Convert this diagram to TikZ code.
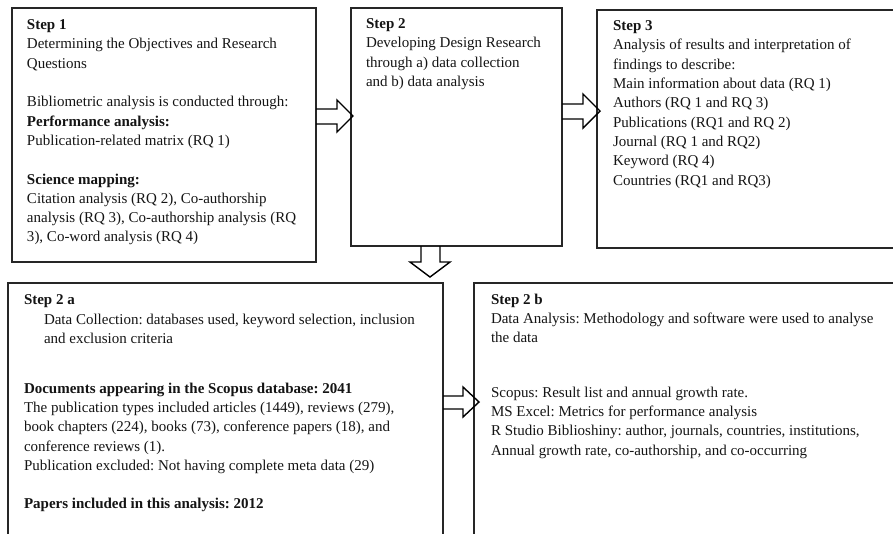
\documentclass[tikz,border=0pt]{standalone}
\usepackage{fontspec}
\setmainfont{Liberation Serif}
\frenchspacing
\begin{document}
\begin{tikzpicture}[x=1pt,y=-1pt,
  box/.style={draw=black!85, line width=1.3pt, inner sep=0pt, outer sep=0pt, anchor=north west},
  txt/.style={anchor=north west, inner sep=0pt, outer sep=0pt, align=left, text=black!92,
    font=\fontsize{15}{19.3}\selectfont\frenchspacing},
  blockarrow/.style={draw=black, line width=1.4pt, line join=miter}]
\useasboundingbox (0,0) rectangle (893,533);
\clip (0,0) rectangle (893,533);
% boxes
\node[box, minimum width=304pt, minimum height=254pt] (s1) at (12,8) {};
\node[box, minimum width=211pt, minimum height=238pt] (s2) at (351,8) {};
\node[box, minimum width=310pt, minimum height=238pt] (s3) at (597,10) {};
\node[box, minimum width=435pt, minimum height=270pt] (s2a) at (8,283) {};
\node[box, minimum width=430pt, minimum height=270pt] (s2b) at (474,283) {};
% texts (y = first baseline - 10.3)
\node[txt] (t1) at (27,19.7) {\textbf{Step 1}\\
Determining the Objectives and Research\\
Questions\\[19.3pt]
Bibliometric analysis is conducted through:\\
\textbf{Performance analysis:}\\
Publication-related matrix (RQ 1)\\[19.3pt]
\textbf{Science mapping:}\\
Citation analysis (RQ 2), Co-authorship\\
analysis (RQ 3), Co-authorship analysis (RQ\\
3), Co-word analysis (RQ 4)};
\node[txt] (t2) at (366,18.7) {\textbf{Step 2}\\
Developing Design Research\\
through a) data collection\\
and b) data analysis};
\node[txt] (t3) at (613,20.7) {\textbf{Step 3}\\
Analysis of results and interpretation of\\
findings to describe:\\
Main information about data (RQ 1)\\
Authors (RQ 1 and RQ 3)\\
Publications (RQ1 and RQ 2)\\
Journal (RQ 1 and RQ2)\\
Keyword (RQ 4)\\
Countries (RQ1 and RQ3)};
\node[txt] (t2ah) at (24,294.7) {\textbf{Step 2 a}};
\node[txt] (t2ai) at (44,313.7) {Data Collection: databases used, keyword selection, inclusion\\
and exclusion criteria};
\node[txt] (t2ab) at (24,382.7) {\textbf{Documents appearing in the Scopus database: 2041}\\
The publication types included articles (1449), reviews (279),\\
book chapters (224), books (73), conference papers (18), and\\
conference reviews (1).\\
Publication excluded: Not having complete meta data (29)\\[19.3pt]
\textbf{Papers included in this analysis: 2012}};
\node[txt] (t2bh) at (491,293.7) {\textbf{Step 2 b}\\
Data Analysis: Methodology and software were used to analyse\\
the data};
\node[txt] (t2bb) at (491,386.7) {Scopus: Result list and annual growth rate.\\
MS Excel: Metrics for performance analysis\\
R Studio Biblioshiny: author, journals, countries, institutions,\\
Annual growth rate, co-authorship, and co-occurring};
% block arrows
\draw[blockarrow] (s1.east |- 0,109) -- (337,109) -- (337,100) -- (353,116) -- (337,132) -- (337,124) -- (s1.east |- 0,124);
\draw[blockarrow] (s2.east |- 0,104) -- (583,104) -- (583,94) -- (600,111) -- (583,128) -- (583,119) -- (s2.east |- 0,119);
\draw[blockarrow] (s2.south -| 421,0) -- (421,262) -- (410,262) -- (430,277) -- (450,262) -- (440,262) -- (s2.south -| 440,0);
\draw[blockarrow] (s2a.east |- 0,396) -- (463,396) -- (463,387) -- (479,402) -- (463,417) -- (463,409) -- (s2a.east |- 0,409);
\end{tikzpicture}
\end{document}
